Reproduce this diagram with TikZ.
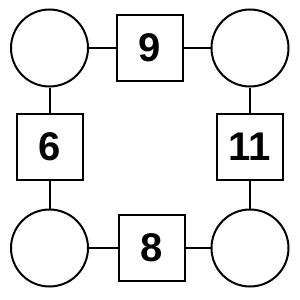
\documentclass[tikz,border=0pt]{standalone}
\usepackage{fontspec}
\setmainfont{Liberation Sans}
\begin{document}
\begin{tikzpicture}[x=1pt,y=-1pt,
  ring/.style={draw,line width=2pt,circle,minimum size=77pt,inner sep=0pt},
  box/.style={draw,line width=2pt,minimum size=66pt,inner sep=0pt,font=\bfseries\fontsize{40}{40}\selectfont},
  link/.style={line width=2pt}]
\useasboundingbox (0,0) rectangle (300,300);
\node[ring] (tl) at (49.5,48) {};
\node[ring] (tr) at (250,48) {};
\node[ring] (bl) at (49.5,248) {};
\node[ring] (br) at (250,248) {};
\node[box] (t) at (149.5,48) {9};
\node[box] (l) at (49.5,147) {6};
\node[box] (r) at (250,147) {11};
\node[box] (b) at (151.5,248) {8};
\draw[link] (tl) -- (t);
\draw[link] (t) -- (tr);
\draw[link] (tl) -- (l);
\draw[link] (l) -- (bl);
\draw[link] (tr) -- (r);
\draw[link] (r) -- (br);
\draw[link] (bl) -- (b);
\draw[link] (b) -- (br);
\end{tikzpicture}
\end{document}
